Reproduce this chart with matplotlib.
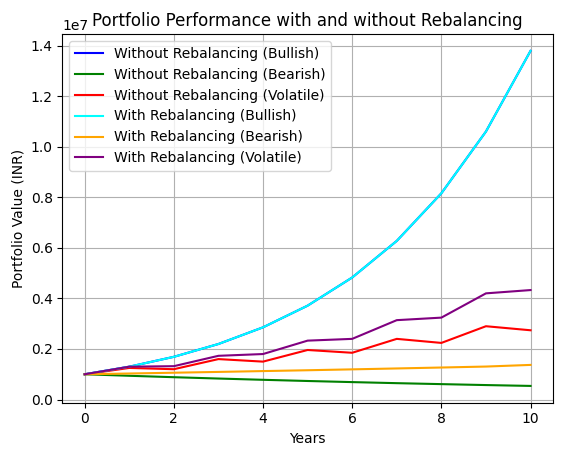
import matplotlib
matplotlib.use("Agg")
import matplotlib.pyplot as plt

years = list(range(11))
bull_no = [1.0e6, 1.3e6, 1.69e6, 2.197e6, 2.856e6, 3.713e6, 4.827e6, 6.275e6, 8.157e6, 10.60e6, 13.79e6]
bear_no = [1.0e6, 0.94e6, 0.884e6, 0.831e6, 0.781e6, 0.734e6, 0.690e6, 0.648e6, 0.610e6, 0.573e6, 0.539e6]
vol_no = [1.0e6, 1.25e6, 1.2e6, 1.6e6, 1.5e6, 1.96e6, 1.85e6, 2.4e6, 2.24e6, 2.9e6, 2.74e6]
bull_re = [1.0e6, 1.3e6, 1.69e6, 2.197e6, 2.856e6, 3.713e6, 4.827e6, 6.275e6, 8.157e6, 10.60e6, 13.79e6]
bear_re = [1.0e6, 1.03e6, 1.061e6, 1.093e6, 1.126e6, 1.159e6, 1.194e6, 1.230e6, 1.267e6, 1.305e6, 1.37e6]
vol_re = [1.0e6, 1.3e6, 1.32e6, 1.73e6, 1.8e6, 2.33e6, 2.4e6, 3.14e6, 3.24e6, 4.2e6, 4.33e6]

fig, ax = plt.subplots(figsize=(5.67, 4.55), dpi=100)
ax.plot(years, bull_no, color="blue", label="Without Rebalancing (Bullish)")
ax.plot(years, bear_no, color="green", label="Without Rebalancing (Bearish)")
ax.plot(years, vol_no, color="red", label="Without Rebalancing (Volatile)")
ax.plot(years, bull_re, color="cyan", label="With Rebalancing (Bullish)")
ax.plot(years, bear_re, color="orange", label="With Rebalancing (Bearish)")
ax.plot(years, vol_re, color="purple", label="With Rebalancing (Volatile)")
ax.set_title("Portfolio Performance with and without Rebalancing")
ax.set_xlabel("Years")
ax.set_ylabel("Portfolio Value (INR)")
ax.grid(True)
ax.legend(loc="upper left")
fig.subplots_adjust(left=0.11, right=0.975, top=0.925, bottom=0.115)
fig.savefig("out.png")
